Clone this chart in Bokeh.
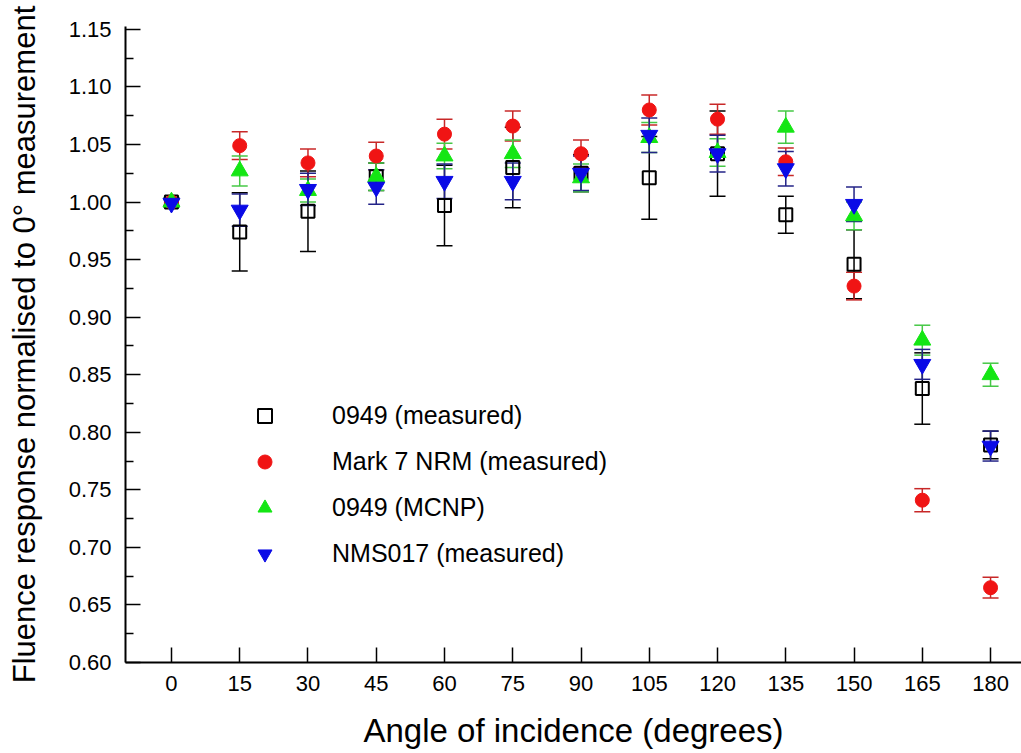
from bokeh.plotting import figure
from bokeh.models import (Range1d, FixedTicker, NumeralTickFormatter, Whisker, TeeHead,
                          ColumnDataSource, Legend, LegendItem)
from bokeh.embed import file_html
from bokeh.resources import INLINE

angles = [0, 15, 30, 45, 60, 75, 90, 105, 120, 135, 150, 165, 180]

meas_0949 = [1.000, 0.974, 0.992, 1.022, 0.997, 1.030, 1.025, 1.021, 1.042, 0.989, 0.946, 0.838, 0.789]
err_0949 = [0.003, 0.034, 0.035, 0.012, 0.035, 0.035, 0.016, 0.036, 0.037, 0.016, 0.030, 0.031, 0.012]

mark7 = [1.000, 1.049, 1.034, 1.040, 1.059, 1.066, 1.042, 1.080, 1.072, 1.035, 0.927, 0.741, 0.665]
err_mark7 = [0.003, 0.012, 0.012, 0.012, 0.013, 0.013, 0.012, 0.013, 0.013, 0.012, 0.012, 0.010, 0.009]

mcnp_0949 = [1.000, 1.027, 1.010, 1.022, 1.040, 1.042, 1.021, 1.056, 1.043, 1.065, 0.988, 0.880, 0.850]
err_mcnp = [0.004, 0.013, 0.010, 0.012, 0.011, 0.012, 0.012, 0.013, 0.012, 0.014, 0.012, 0.013, 0.010]

nms017 = [0.999, 0.993, 1.011, 1.013, 1.018, 1.018, 1.025, 1.058, 1.042, 1.029, 0.998, 0.859, 0.788]
err_nms = [0.003, 0.014, 0.014, 0.015, 0.015, 0.016, 0.015, 0.015, 0.016, 0.015, 0.015, 0.013, 0.013]

y_ticks = [0.60, 0.65, 0.70, 0.75, 0.80, 0.85, 0.90, 0.95, 1.00, 1.05, 1.10, 1.15]
y_minor = [0.625, 0.675, 0.725, 0.775, 0.825, 0.875, 0.925, 0.975, 1.025, 1.075, 1.125]

FONT = "Liberation Sans"

p = figure(width=1021, height=753, frame_width=896, frame_height=636,
           x_range=Range1d(-10.1, 186.8), y_range=Range1d(0.60, 1.1525),
           min_border_left=125, min_border_right=0, min_border_top=26, min_border_bottom=91,
           output_backend="svg", toolbar_location=None)
p.outline_line_color = None
p.xgrid.visible = False
p.ygrid.visible = False
p.background_fill_color = "white"
p.border_fill_color = "white"

series = [
    ("0949 (measured)", meas_0949, err_0949, "square", None, "black", "black", 13, 2.0),
    ("Mark 7 NRM (measured)", mark7, err_mark7, "circle", "#f01414", "#f01414", "#c82828", 14, 1.0),
    ("0949 (MCNP)", mcnp_0949, err_mcnp, "triangle", "#14e614", "#14e614", "#46c846", 17, 1.0),
    ("NMS017 (measured)", nms017, err_nms, "inverted_triangle", "#0a0ae6", "#0a0ae6", "#232387", 17, 1.0),
]

order = [0, 1, 2, 3]
renderers = {}
for i in [0, 1, 2, 3]:
    name, vals, errs, marker, fill, line, ecol, size, lw = series[i]
    src = ColumnDataSource(dict(x=angles, y=vals,
                                upper=[v + e for v, e in zip(vals, errs)],
                                lower=[v - e for v, e in zip(vals, errs)]))
    w = Whisker(source=src, base="x", upper="upper", lower="lower",
                line_color=ecol, line_width=1.5,
                upper_head=TeeHead(size=16, line_color=ecol, line_width=1.5),
                lower_head=TeeHead(size=16, line_color=ecol, line_width=1.5))
    p.add_layout(w)
    r = p.scatter("x", "y", source=src, marker=marker, size=size,
                  fill_color=fill, line_color=line, line_width=lw)
    renderers[i] = r

legend = Legend(items=[LegendItem(label=series[i][0], renderers=[renderers[i]]) for i in order],
                location=(122, 91), orientation="vertical",
                glyph_width=35, glyph_height=35, spacing=11, padding=0, margin=0,
                label_standoff=50, label_text_font=FONT, label_text_font_size="25px",
                label_text_color="black", border_line_color=None,
                background_fill_alpha=0)
p.add_layout(legend, "center")

# axes
p.xaxis.ticker = FixedTicker(ticks=angles)
p.yaxis.ticker = FixedTicker(ticks=y_ticks, minor_ticks=y_minor)
p.yaxis.formatter = NumeralTickFormatter(format="0.00")

for ax in (p.xaxis[0], p.yaxis[0]):
    ax.axis_line_color = "black"
    ax.axis_line_width = 2
    ax.major_tick_line_color = "black"
    ax.major_tick_line_width = 1.5
    ax.minor_tick_line_color = "black"
    ax.minor_tick_line_width = 1.5
    ax.major_tick_in = 15
    ax.major_tick_out = 0
    ax.minor_tick_in = 8
    ax.minor_tick_out = 0
    ax.major_label_text_font = FONT
    ax.major_label_text_font_size = "22px"
    ax.major_label_text_color = "black"
    ax.axis_label_text_font = FONT
    ax.axis_label_text_font_style = "normal"
    ax.axis_label_text_color = "black"

p.xaxis.minor_tick_line_color = None
p.xaxis.axis_label = "Angle of incidence (degrees)"
p.xaxis.axis_label_text_font_size = "33px"
p.xaxis.major_label_standoff = 13
p.xaxis.axis_label_standoff = 18

p.yaxis.axis_label = "Fluence response normalised to 0\u00b0 measurement"
p.yaxis.axis_label_text_font_size = "31px"
p.yaxis.major_label_standoff = 14
p.yaxis.axis_label_standoff = 24

open("out.html", "w").write(file_html(p, INLINE))
